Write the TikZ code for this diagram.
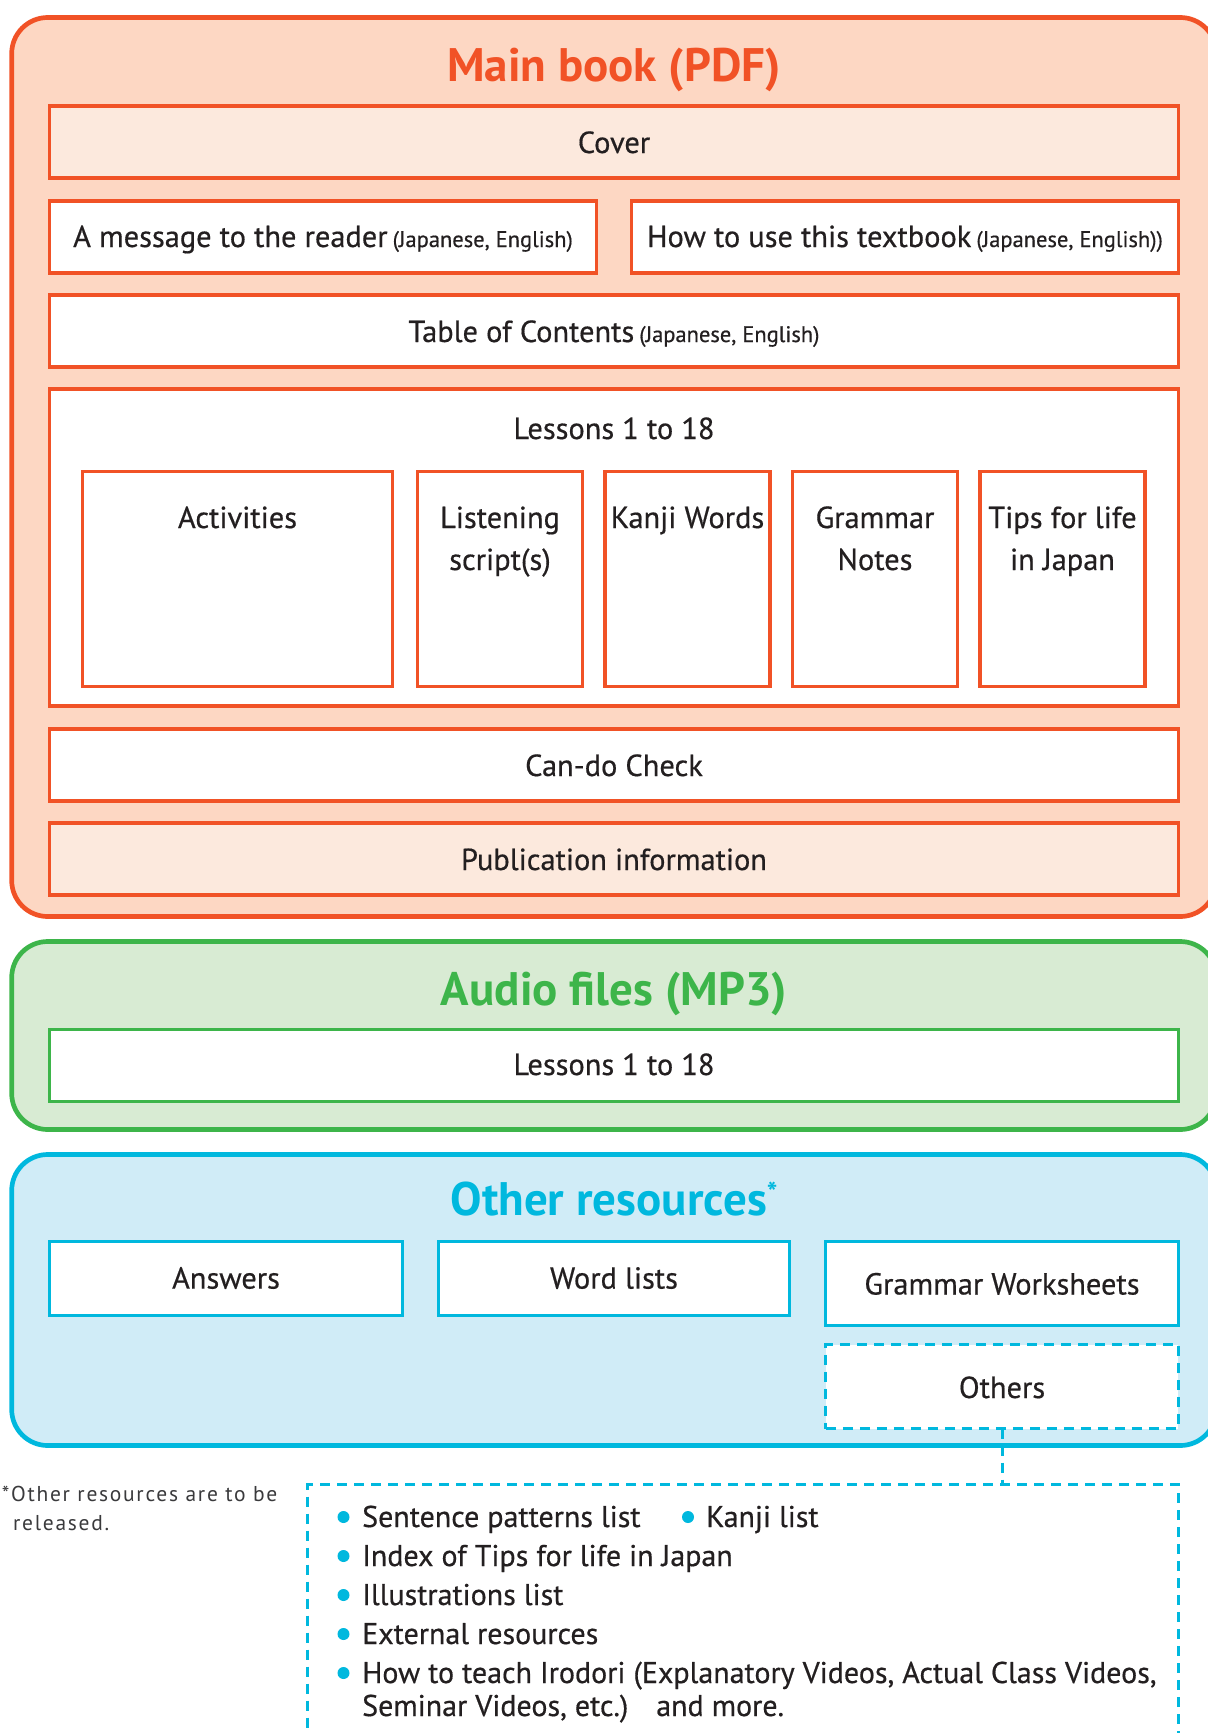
\documentclass[tikz,border=0pt]{standalone}
\usepackage{fontspec}
\setmainfont{PT Sans}
\newfontfamily\medfont{PT Sans}[FakeBold=0.5]
\newfontfamily\notefont{PT Sans}[LetterSpace=8]
\definecolor{mbStroke}{HTML}{F15226}
\definecolor{mbFill}{HTML}{FDD7C3}
\definecolor{mbLight}{HTML}{FCE9DD}
\definecolor{afStroke}{HTML}{3DB54A}
\definecolor{afFill}{HTML}{D8EBD3}
\definecolor{orStroke}{HTML}{00B8DE}
\definecolor{orFill}{HTML}{D0ECF7}
\definecolor{ink}{HTML}{231F20}
\definecolor{noteink}{HTML}{3A3A3C}
\newcommand{\labelfont}{\medfont\fontsize{30.4}{42}\selectfont}
\newcommand{\listfont}{\medfont\fontsize{30}{42}\selectfont}
\newcommand{\smallfont}{\fontsize{22.5}{26}\selectfont}
\newcommand{\titlefont}{\fontsize{47}{52}\selectfont\bfseries}
\tikzset{
  panel/.style={draw, line width=4.7pt, rounded corners=36pt, inner sep=0pt, outer sep=0pt},
  itembox/.style={draw, line width=3.4pt, fill=white, inner sep=0pt, outer sep=0pt},
  dashbox/.style={itembox, line width=3pt, dash pattern=on 10pt off 7pt},
  lbl/.style={font=\labelfont, text=ink, inner sep=0pt, anchor=base},
  ttl/.style={font=\titlefont, inner sep=0pt, anchor=base},
  bulletdot/.style={circle, fill=orStroke, inner sep=0pt, minimum size=12pt},
  item/.style={font=\listfont, text=ink, inner sep=0pt, anchor=base west},
  note/.style={font=\notefont\fontsize{21.5}{29}\selectfont, text=noteink, inner sep=0pt, anchor=base west},
}
\begin{document}
\begin{tikzpicture}[x=1pt, y=-1pt]
\useasboundingbox (0,0) rectangle (1208,1733);

% ---------- Main book ----------
\node[panel, draw=mbStroke, fill=mbFill, minimum width=1204.6pt, minimum height=899pt] (main) at (614,467) {};
\node[ttl, text=mbStroke] (mainT) at (614,81.7) {Main book (PDF)};

\node[itembox, draw=mbStroke, fill=mbLight, minimum width=1129pt, minimum height=72pt] (cover) at (614,142) {};
\node[lbl] (coverT) at (614,153) {Cover};

\node[itembox, draw=mbStroke, minimum width=547pt, minimum height=72pt] (msg) at (323,237) {};
\node[lbl] (msgT) at (323,247) {A message to the reader\,{\smallfont(Japanese, English)}};

\node[itembox, draw=mbStroke, minimum width=547pt, minimum height=72pt] (howto) at (905,237) {};
\node[lbl] (howtoT) at (905,247) {How to use this textbook\,{\smallfont(Japanese, English))}};

\node[itembox, draw=mbStroke, minimum width=1129pt, minimum height=72pt] (toc) at (614,331) {};
\node[lbl] (tocT) at (614,342) {Table of Contents\,{\smallfont(Japanese, English)}};

\node[itembox, draw=mbStroke, minimum width=1129pt, minimum height=317pt] (lessons) at (614,547.5) {};
\node[lbl] (lessonsT) at (614,439) {Lessons 1 to 18};

\node[itembox, draw=mbStroke, minimum width=310pt, minimum height=215pt] (act) at (237.5,579) {};
\node[itembox, draw=mbStroke, minimum width=165pt, minimum height=215pt] (listen) at (500,579) {};
\node[itembox, draw=mbStroke, minimum width=165pt, minimum height=215pt] (kanji) at (687.5,579) {};
\node[itembox, draw=mbStroke, minimum width=165pt, minimum height=215pt] (gram) at (875,579) {};
\node[itembox, draw=mbStroke, minimum width=165pt, minimum height=215pt] (tips) at (1062.5,579) {};
% single-line labels sit on the first baseline, two-line labels are anchored on their last line
\node[lbl] (actT) at (237.5,528) {Activities};
\node[lbl, align=center] (listenT) at (500,570) {Listening\\script(s)};
\node[lbl] (kanjiT) at (687.5,528) {Kanji Words};
\node[lbl, align=center] (gramT) at (875,570) {Grammar\\Notes};
\node[lbl, align=center] (tipsT) at (1062.5,570) {Tips for life\\in Japan};

\node[itembox, draw=mbStroke, minimum width=1129pt, minimum height=72pt] (cando) at (614,765) {};
\node[lbl] (candoT) at (614,776) {Can-do Check};

\node[itembox, draw=mbStroke, fill=mbLight, minimum width=1129pt, minimum height=72pt] (pub) at (614,859) {};
\node[lbl] (pubT) at (614,870) {Publication information};

% ---------- Audio files ----------
\node[panel, draw=afStroke, fill=afFill, minimum width=1204.6pt, minimum height=188pt] (audio) at (614,1035.5) {};
\node[ttl, text=afStroke] (audioT) at (614,1005) {Audio files (MP3)};
\node[itembox, draw=afStroke, minimum width=1129pt, minimum height=72pt] (alessons) at (614,1065.5) {};
\node[lbl] (alessonsT) at (614,1075) {Lessons 1 to 18};

% ---------- Other resources ----------
\node[panel, draw=orStroke, fill=orFill, minimum width=1204.6pt, minimum height=291pt] (other) at (614,1300) {};
\node[ttl, text=orStroke] (otherT) at (614,1215.7) {Other resources\raisebox{13pt}{\fontsize{28}{28}\selectfont *}};

\node[itembox, draw=orStroke, minimum width=352.5pt, minimum height=73.5pt] (ans) at (226,1278.5) {};
\node[lbl] (ansT) at (226,1288.6) {Answers};
\node[itembox, draw=orStroke, minimum width=351pt, minimum height=73.5pt] (words) at (614,1278.5) {};
\node[lbl] (wordsT) at (614,1288.6) {Word lists};
\node[itembox, draw=orStroke, minimum width=352.5pt, minimum height=84pt] (gws) at (1002,1283.5) {};
\node[lbl] (gwsT) at (1002,1294.5) {Grammar Worksheets};
\node[dashbox, draw=orStroke, minimum width=352.5pt, minimum height=84pt] (others) at (1002,1386.5) {};
\node[lbl] (othersT) at (1002,1398) {Others};

% ---------- Details of "Others" ----------
\node[dashbox, draw=orStroke, anchor=north west, minimum width=871pt, minimum height=320pt] (list) at (307.5,1484.5) {};
\draw[orStroke, line width=3pt, dash pattern=on 10pt off 7pt] (others.south) -- (others.south |- list.north);

\node[bulletdot] (b1) at (343.5,1517) {};
\node[item] (i1) at (362,1527) {Sentence patterns list};
\node[bulletdot] (b1b) at (688,1517) {};
\node[item] (i1b) at (706,1527) {Kanji list};
\node[bulletdot] (b2) at (343.5,1556) {};
\node[item] (i2) at (362,1566) {Index of Tips for life in Japan};
\node[bulletdot] (b3) at (343.5,1595) {};
\node[item] (i3) at (362,1605) {Illustrations list};
\node[bulletdot] (b4) at (343.5,1634) {};
\node[item] (i4) at (362,1644) {External resources};
\node[bulletdot] (b5) at (343.5,1673) {};
\node[item] (i5) at (362,1683) {How to teach Irodori (Explanatory Videos, Actual Class Videos,};
\node[item] (i5b) at (362,1716) {Seminar Videos, etc.)\hspace{28pt}and more.};

% ---------- Footnote ----------
\node[note] (note1) at (1.7,1501.7) {*Other resources are to be};
\node[note] (note2) at (13,1530) {released.};
\end{tikzpicture}
\end{document}
